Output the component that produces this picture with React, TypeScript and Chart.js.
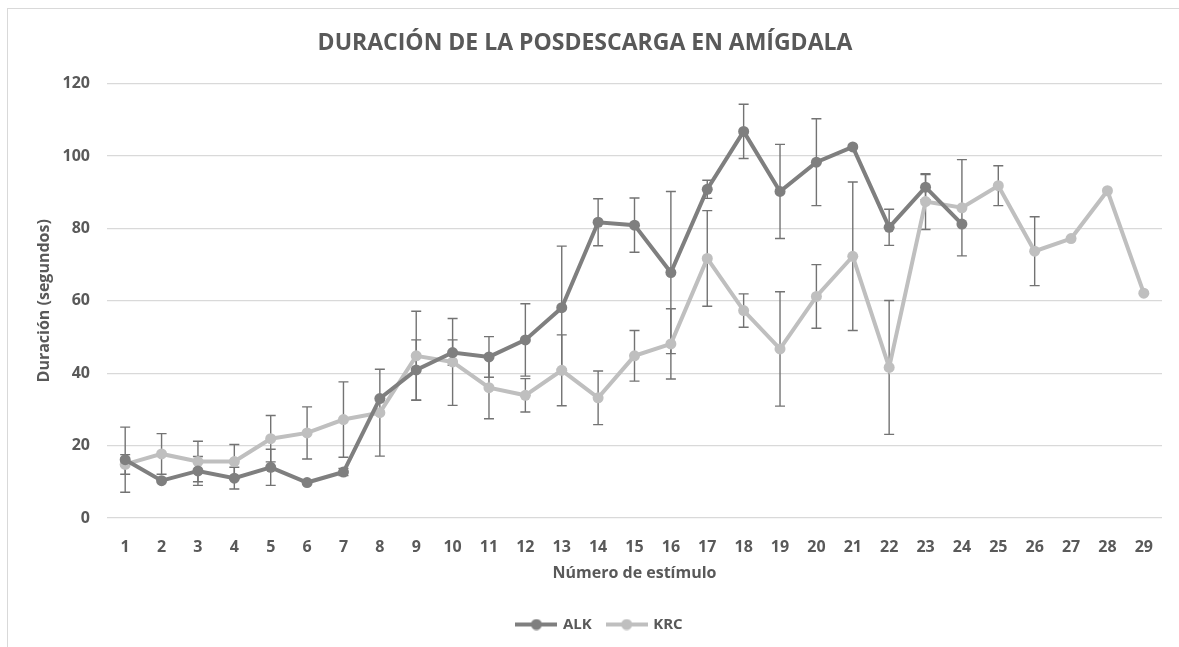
import React, { useEffect, useRef } from "react";
import { Chart, registerables } from "chart.js";

Chart.register(...registerables);

const TITLE = "DURACIÓN DE LA POSDESCARGA EN AMÍGDALA";
const X_TITLE = "Número de estímulo";
const Y_TITLE = "Duración (segundos)";

const CATEGORIES = [
  "1", "2", "3", "4", "5", "6", "7", "8", "9", "10",
  "11", "12", "13", "14", "15", "16", "17", "18", "19", "20",
  "21", "22", "23", "24", "25", "26", "27", "28", "29",
];

const ALK = [
  16.1, 10.3, 13.0, 11.0, 14.0, 9.8, 12.7, 33.0, 40.9, 45.7,
  44.5, 49.2, 58.1, 81.7, 80.9, 67.8, 90.8, 106.8, 90.2, 98.3,
  102.5, 80.3, 91.4, 81.2,
];
const ALK_ERR = [
  9, 0, 4, 3, 5, 0, 1, 0, 8.3, 3.5,
  5.6, 10, 17, 6.5, 7.5, 22.4, 2.5, 7.5, 13, 12,
  0, 5, 3.5, 0,
];

const KRC = [
  14.8, 17.7, 15.6, 15.6, 21.9, 23.5, 27.2, 29.1, 44.8, 43.1,
  36.0, 33.9, 40.8, 33.2, 44.8, 48.1, 71.7, 57.3, 46.7, 61.2,
  72.3, 41.6, 87.4, 85.7, 91.8, 73.7, 77.2, 90.4, 62.1,
];
const KRC_ERR = [
  2.7, 5.6, 5.6, 4.7, 6.4, 7.2, 10.4, 12, 12.3, 12,
  8.6, 4.6, 9.8, 7.4, 7, 9.7, 13.2, 4.6, 15.8, 8.8,
  20.5, 18.5, 7.7, 13.3, 5.5, 9.5, 0, 0, 0,
];

const Y_MIN = 0;
const Y_MAX = 120;
const Y_STEP = 20;

const ALK_COLOR = "#7f7f7f";
const KRC_COLOR = "#bfbfbf";
const TEXT_COLOR = "#595959";
const GRID_COLOR = "#d9d9d9";
const ERR_COLOR = "#737373";

const errorBarPlugin = {
  id: "errorBars",
  beforeDatasetsDraw(chart: any) {
    const ctx = chart.ctx;
    const yScale = chart.scales.y;
    chart.data.datasets.forEach((ds: any, i: number) => {
      const meta = chart.getDatasetMeta(i);
      const errs: number[] = ds.errors || [];
      meta.data.forEach((pt: any, j: number) => {
        const v = ds.data[j];
        const e = errs[j];
        if (v == null || !e) return;
        const x = pt.x;
        const yt = yScale.getPixelForValue(v + e);
        const yb = yScale.getPixelForValue(v - e);
        ctx.save();
        ctx.strokeStyle = ERR_COLOR;
        ctx.lineWidth = 1.4;
        ctx.beginPath();
        ctx.moveTo(x, yt);
        ctx.lineTo(x, yb);
        ctx.moveTo(x - 5, yt);
        ctx.lineTo(x + 5, yt);
        ctx.moveTo(x - 5, yb);
        ctx.lineTo(x + 5, yb);
        ctx.stroke();
        ctx.restore();
      });
    });
  },
};

const legendShiftPlugin = {
  id: "legendShift",
  afterLayout(chart: any) {
    if (chart.legend) {
      chart.legend.left += 15;
      chart.legend.right += 15;
    }
  },
};

function makeIcon(color: string) {
  const c = document.createElement("canvas");
  c.width = 42;
  c.height = 12;
  const g = c.getContext("2d")!;
  g.strokeStyle = color;
  g.lineWidth = 4;
  g.beginPath();
  g.moveTo(0, 6);
  g.lineTo(42, 6);
  g.stroke();
  g.fillStyle = color;
  g.beginPath();
  g.arc(21, 6, 5.5, 0, Math.PI * 2);
  g.fill();
  return c;
}

export default function App() {
  const ref = useRef<HTMLCanvasElement>(null);

  useEffect(() => {
    if (!ref.current) return;
    Chart.defaults.font.family = "'Open Sans', sans-serif";
    const icons = [makeIcon(ALK_COLOR), makeIcon(KRC_COLOR)];
    const chart = new Chart(ref.current, {
      type: "line",
      data: {
        labels: CATEGORIES,
        datasets: [
          {
            label: "ALK",
            data: ALK,
            errors: ALK_ERR,
            borderColor: ALK_COLOR,
            backgroundColor: ALK_COLOR,
            borderWidth: 4,
            pointRadius: 5.5,
            pointBorderWidth: 0,
            pointBackgroundColor: ALK_COLOR,
            tension: 0,
          } as any,
          {
            label: "KRC",
            data: KRC,
            errors: KRC_ERR,
            borderColor: KRC_COLOR,
            backgroundColor: KRC_COLOR,
            borderWidth: 4,
            pointRadius: 5.5,
            pointBorderWidth: 0,
            pointBackgroundColor: KRC_COLOR,
            tension: 0,
          } as any,
        ],
      },
      options: {
        responsive: false,
        animation: false,
        devicePixelRatio: 1,
        layout: { padding: { left: 0, right: 17, top: 0, bottom: 5 } },
        plugins: {
          title: {
            display: true,
            text: TITLE,
            color: TEXT_COLOR,
            font: { size: 23, weight: "bold" },
            padding: { top: 21, bottom: 26 },
          },
          legend: {
            display: true,
            position: "bottom",
            labels: {
              usePointStyle: true,
              pointStyleWidth: 38,
              padding: 16,
              color: TEXT_COLOR,
              font: { size: 15, weight: "bold" },
              generateLabels: (ch: any) =>
                Chart.defaults.plugins.legend.labels
                  .generateLabels(ch)
                  .map((l: any, i: number) => ({ ...l, pointStyle: icons[i] })),
            },
          },
          tooltip: { enabled: false },
        },
        scales: {
          x: {
            offset: true,
            grid: { display: false },
            border: { display: false },
            ticks: {
              color: TEXT_COLOR,
              font: { size: 16, weight: "bold" },
              padding: 12,
              maxRotation: 0,
              autoSkip: false,
            },
            title: {
              display: true,
              text: X_TITLE,
              color: TEXT_COLOR,
              font: { size: 16, weight: "bold" },
              padding: { top: 0, bottom: 18 },
            },
            afterFit: (s: any) => {
              s.height = 83;
            },
          },
          y: {
            min: Y_MIN,
            max: Y_MAX,
            grid: { color: GRID_COLOR, lineWidth: 1.3, drawTicks: false },
            border: { display: false },
            ticks: {
              stepSize: Y_STEP,
              color: TEXT_COLOR,
              font: { size: 16, weight: "bold" },
              padding: 17,
            },
            title: {
              display: true,
              text: Y_TITLE,
              color: TEXT_COLOR,
              font: { size: 16, weight: "bold" },
              padding: { top: 27, bottom: 0 },
            },
            afterFit: (s: any) => {
              s.width = 99;
            },
          },
        },
      },
      plugins: [errorBarPlugin, legendShiftPlugin],
    });
    return () => chart.destroy();
  }, []);

  return (
    <div
      style={{
        position: "fixed",
        left: 7,
        top: 8,
        borderTop: `1px solid ${GRID_COLOR}`,
        borderLeft: `1px solid ${GRID_COLOR}`,
        width: 1171,
        height: 638,
        background: "#ffffff",
      }}
    >
      <canvas
        ref={ref}
        width={1171}
        height={638}
        style={{ display: "block", width: 1171, height: 638 }}
      />
    </div>
  );
}
